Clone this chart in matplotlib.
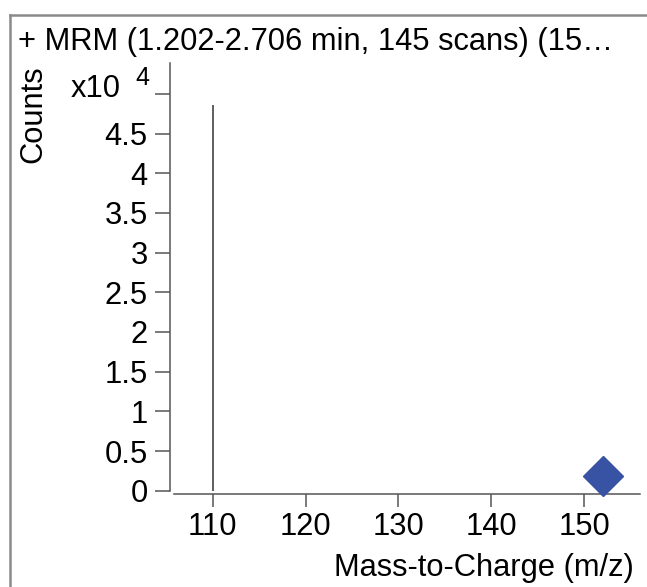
import matplotlib.pyplot as plt
from matplotlib.lines import Line2D

plt.rcParams['font.family'] = ['Liberation Sans', 'DejaVu Sans']

# MRM product ion spectrum
title = '+ MRM (1.202-2.706 min, 145 scans) (15\u2026'
product_mz = [110.0]
product_counts = [48550]
precursor_mz = [152.0]
precursor_counts = [1850]
scale = 1e4
y_ticks = [0, 0.5, 1, 1.5, 2, 2.5, 3, 3.5, 4, 4.5, 5]
y_ticklabels = ['0', '0.5', '1', '1.5', '2', '2.5', '3', '3.5', '4', '4.5', '']
x_ticks = [110, 120, 130, 140, 150]

W, H = 647, 587
fs = 22.2
fig = plt.figure(figsize=(W / 100, H / 100), dpi=100)
ax = fig.add_axes([170 / W, 1 - 490.7 / H, (640 - 170) / W, (490.7 - 63) / H])

# spectrum sticks
for mz, c in zip(product_mz, product_counts):
    ax.vlines(mz, 0, c / scale, color='#333333', lw=1.1)
# precursor marker
ax.plot(precursor_mz, [c / scale for c in precursor_counts], 'D',
        color='#3953A4', ms=20, clip_on=False, zorder=5)

ax.set_xlim(105.4, 156.0)
ax.set_ylim(0, 5.39)
ax.set_xticks(x_ticks)
ax.set_xticklabels([str(t) for t in x_ticks])
ax.set_yticks(y_ticks)
ax.set_yticklabels(y_ticklabels)

for s in ['top', 'right']:
    ax.spines[s].set_visible(False)
ax.spines['left'].set_bounds(0, 5.39)
ax.spines['bottom'].set_position(('outward', 2.5))
ax.spines['bottom'].set_bounds(105.85, 156.0)
for s in ['left', 'bottom']:
    ax.spines[s].set_color('#555555')
    ax.spines[s].set_linewidth(1.1)

ax.tick_params(axis='y', length=11, width=1.1, color='#555555', pad=5, labelsize=fs)
ax.tick_params(axis='x', length=9, width=1.1, color='#555555', pad=4, labelsize=fs)

fig.text(18 / W, 1 - 42 / H, title, fontsize=fs, ha='left', va='center')
fig.text(33 / W, 1 - 114 / H, 'Counts', fontsize=fs, rotation=90, ha='center', va='center')
fig.text(121 / W, 1 - 89 / H, 'x10', fontsize=fs, ha='right', va='center')
fig.text(135 / W, 1 - 78 / H, '4', fontsize=18, ha='left', va='center')
fig.text(634 / W, 1 - 568 / H, 'Mass-to-Charge (m/z)', fontsize=fs, ha='right', va='center')

# outer panel frame
fig.add_artist(Line2D([9.5 / W, 9.5 / W], [0, 1 - 15 / H], color='#8a8a8a', lw=1.8))
fig.add_artist(Line2D([9.5 / W, 1], [1 - 15 / H, 1 - 15 / H], color='#8a8a8a', lw=1.8))

fig.savefig('out.png', dpi=100)
